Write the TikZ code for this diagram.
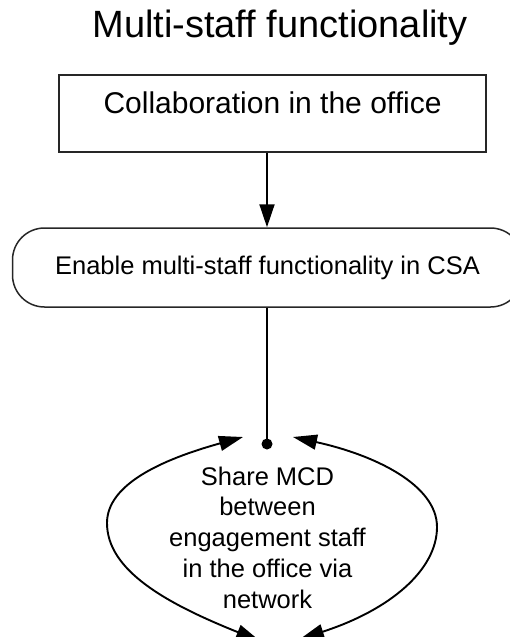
\documentclass[tikz,border=0pt]{standalone}
\usepackage{fontspec}
\setmainfont{Liberation Sans}
\usetikzlibrary{arrows.meta}
\tikzset{
  boxline/.style={draw=black!85, line width=1.5pt},
  conn/.style={draw=black, line width=1.9pt},
  tip/.style={-{Triangle[length=23pt,width=15pt]}},
  biarc/.style={conn, {Triangle[length=24pt,width=15pt]}-{Triangle[length=24pt,width=15pt]}},
}
\begin{document}
\begin{tikzpicture}[x=1pt,y=-1pt]
\useasboundingbox (0,0) rectangle (509,637);
% title
\node[anchor=base, inner sep=0, font=\fontsize{38}{46}\selectfont] (title) at (280,37) {Multi-staff functionality};
% top box
\node[boxline, anchor=base, inner sep=0, minimum width=427pt, text height=38pt, text depth=39pt,
      font=\fontsize{30}{36}\selectfont] (box) at (272.5,113) {Collaboration in the office};
% rounded box
\node[boxline, rectangle, rounded corners=32pt, inner sep=0, minimum width=510pt, minimum height=79pt,
      font=\fontsize{25.5}{31}\selectfont] (enable) at (267.5,267.5) {Enable multi-staff functionality in CSA};
% dot
\node[circle, fill=black, inner sep=0, minimum size=11pt] (dot) at (267,444) {};
% connectors
\draw[conn, tip] (dot |- box.south) -- (dot |- enable.north);
\draw[conn] (dot |- enable.south) -- (dot.center);
% loop text
\node[align=center, inner sep=0, font=\fontsize{25.5}{30.75}\selectfont] (share) at (267.5,537.4)
  {Share MCD\\between\\engagement staff\\in the office via\\network};
% loop arcs
\coordinate (lt) at (243,437);
\coordinate (lm) at (107,523);
\coordinate (lb) at (260,641);
\coordinate (rt) at (293,437);
\coordinate (rm) at (437,527);
\coordinate (rb) at (300,639);
\draw[biarc] (lt) .. controls (160,460) and (107,485) .. (lm) .. controls (107,570) and (165,603) .. (lb);
\draw[biarc] (rt) .. controls (375,455) and (437,485) .. (rm) .. controls (437,570) and (390,610) .. (rb);
\end{tikzpicture}
\end{document}
